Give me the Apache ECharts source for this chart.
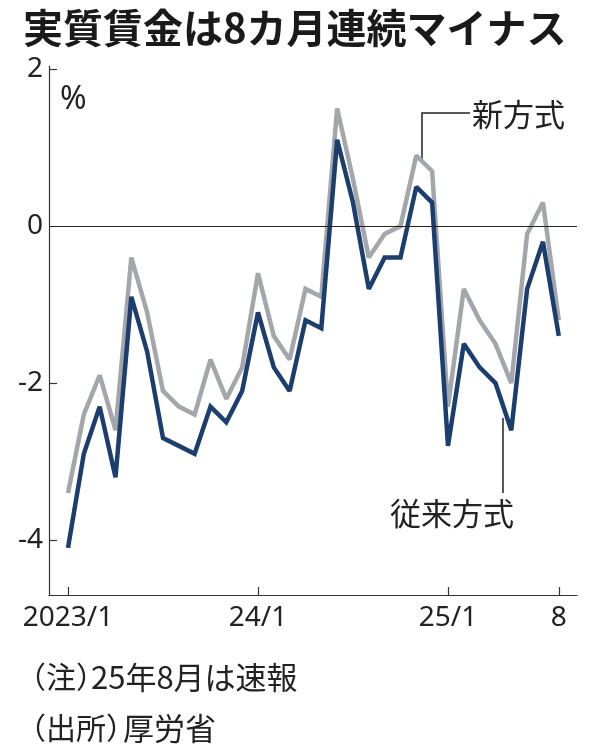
<!DOCTYPE html>
<html>
<head>
<meta charset="utf-8">
<script src="https://cdn.jsdelivr.net/npm/echarts@6/dist/echarts.min.js"></script>
<style>
html,body{margin:0;padding:0;background:#fff;}
#c{width:596px;height:756px;}
</style>
</head>
<body>
<div id="c"></div>
<script>
const months = ['2023/1','2023/2','2023/3','2023/4','2023/5','2023/6','2023/7','2023/8','2023/9','2023/10','2023/11','2023/12',
  '2024/1','2024/2','2024/3','2024/4','2024/5','2024/6','2024/7','2024/8','2024/9','2024/10','2024/11','2024/12',
  '2025/1','2025/2','2025/3','2025/4','2025/5','2025/6','2025/7','2025/8'];
const oldMethod = [-4.1,-2.9,-2.3,-3.2,-0.9,-1.6,-2.7,-2.8,-2.9,-2.3,-2.5,-2.1,
  -1.1,-1.8,-2.1,-1.2,-1.3,1.1,0.3,-0.8,-0.4,-0.4,0.5,0.3,
  -2.8,-1.5,-1.8,-2.0,-2.6,-0.8,-0.2,-1.4];
const newMethod = [-3.4,-2.4,-1.9,-2.6,-0.4,-1.1,-2.1,-2.3,-2.4,-1.7,-2.2,-1.8,
  -0.6,-1.4,-1.7,-0.8,-0.9,1.5,0.6,-0.4,-0.1,0.0,0.9,0.7,
  -2.3,-0.8,-1.2,-1.5,-2.0,-0.1,0.3,-1.2];
const xTickIndex = [0, 12, 24, 31];
const xTickLabels = ['2023/1', '24/1', '25/1', '8'];
const yTickValues = [-4, -2, 2];
const yLabelValues = [-4, -2, 0, 2];

const chart = echarts.init(document.getElementById('c'), null, {renderer: 'canvas'});
const latin = "'Noto Sans', sans-serif";
const ink = '#222';

chart.setOption({
  animation: false,
  backgroundColor: '#fff',
  grid: {left: 49, right: 19, top: 66, bottom: 161, containLabel: false},
  xAxis: {
    type: 'value', min: -1.2, max: 32.15,
    axisLine: {show: true, onZero: false, lineStyle: {color: '#333', width: 1.2}},
    axisTick: {show: true, inside: true, length: 8, customValues: xTickIndex, lineStyle: {color: '#333', width: 1.2}},
    axisLabel: {show: true, customValues: xTickIndex, margin: 9, color: ink, fontFamily: latin, fontSize: 28,
      formatter: v => xTickLabels[xTickIndex.indexOf(Math.round(v))] || ''},
    splitLine: {show: false}
  },
  yAxis: {
    type: 'value', min: -4.7, max: 2.04,
    axisLine: {show: true, onZero: false, lineStyle: {color: '#333', width: 1.2}},
    axisTick: {show: true, inside: true, length: 8, customValues: yTickValues, lineStyle: {color: '#333', width: 1.2}},
    axisLabel: {show: true, customValues: yLabelValues, margin: 6, color: ink, fontFamily: latin, fontSize: 28,
      formatter: v => String(v)},
    splitLine: {show: false}
  },
  series: [
    {
      type: 'line', data: [], z: 1, silent: true,
      markLine: {silent: true, symbol: ['none','none'], label: {show: false},
        lineStyle: {color: '#222', width: 1.2, type: 'solid'}, data: [{yAxis: 0}]}
    },
    {
      name: '新方式', type: 'line', z: 2, showSymbol: false, symbol: 'none',
      lineStyle: {color: '#a3a6aa', width: 4.5, join: 'miter', miterLimit: 2},
      data: newMethod.map((v, i) => [i, v])
    },
    {
      name: '従来方式', type: 'line', z: 3, showSymbol: false, symbol: 'none',
      lineStyle: {color: '#1c3e6e', width: 4.5, join: 'miter', miterLimit: 2},
      data: oldMethod.map((v, i) => [i, v])
    }
  ],
  graphic: [
    {type: 'text', left: 23, top: 8, style: {text: '実質賃金は8カ月連続マイナス', fill: '#1a1a1a', font: "bold 40px 'Noto Sans CJK JP'"}},
    {type: 'text', x: 60, y: 100, style: {text: '%', fill: ink, font: "32px 'Noto Sans'", verticalAlign: 'middle', align: 'left'}},
    {type: 'polyline', shape: {points: [[422, 163], [422, 113], [470, 113]]}, style: {stroke: '#222', lineWidth: 1.5, fill: null}},
    {type: 'text', x: 472, y: 114, style: {text: '新方式', fill: ink, font: "31px 'Noto Sans CJK JP'", verticalAlign: 'middle', align: 'left'}},
    {type: 'line', shape: {x1: 503, y1: 418, x2: 503, y2: 493}, style: {stroke: '#222', lineWidth: 1.5}},
    {type: 'text', x: 452, y: 513, style: {text: '従来方式', fill: ink, font: "31px 'Noto Sans CJK JP'", verticalAlign: 'middle', align: 'center'}},
    {type: 'text', x: 16, y: 677, style: {text: '（注）', fill: ink, font: "30px 'Noto Sans CJK JP'", verticalAlign: 'middle', align: 'left'}},
    {type: 'text', x: 91, y: 677, style: {text: '25年8月は速報', fill: ink, font: "31px 'Noto Sans CJK JP'", verticalAlign: 'middle', align: 'left'}},
    {type: 'text', x: 16, y: 728, style: {text: '（出所）', fill: ink, font: "30px 'Noto Sans CJK JP'", verticalAlign: 'middle', align: 'left'}},
    {type: 'text', x: 123, y: 728, style: {text: '厚労省', fill: ink, font: "31px 'Noto Sans CJK JP'", verticalAlign: 'middle', align: 'left'}}
  ]
});
</script>
</body>
</html>
